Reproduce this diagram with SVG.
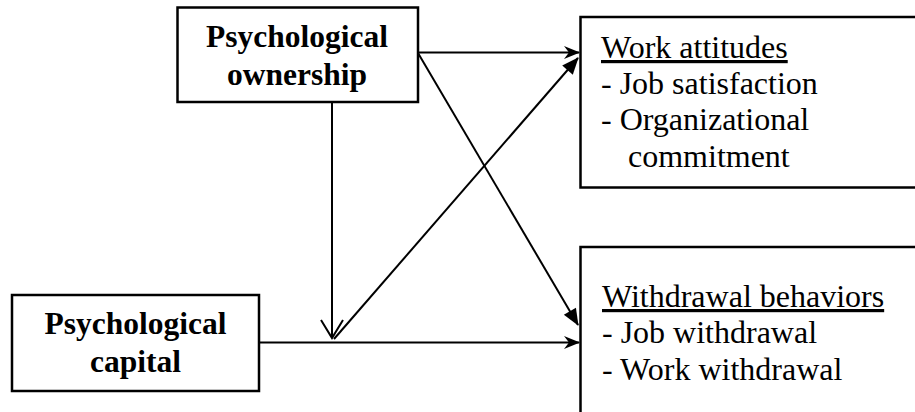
<svg xmlns="http://www.w3.org/2000/svg" width="915" height="412" viewBox="0 0 915 412">
<style>
.box{fill:#fff;stroke:#000;stroke-width:2.5}
.b{font-family:"Liberation Serif","Times New Roman",serif;font-weight:bold;font-size:31.5px;text-anchor:middle;fill:#000}
.r{font-family:"Liberation Serif","Times New Roman",serif;font-size:32px;fill:#000}
.u{text-decoration:underline}
.c{fill:none;stroke:#000;stroke-width:2}
</style>
<defs>
<marker id="barb" markerUnits="userSpaceOnUse" viewBox="-17 -8 19 16" refX="0" refY="0" markerWidth="19" markerHeight="16" orient="auto" overflow="visible">
<path d="M1,0 L-15,-6.5 L-10,0 L-15,6.5 Z" fill="#000"/>
</marker>
<marker id="tri" markerUnits="userSpaceOnUse" viewBox="-18 -8 20 16" refX="0" refY="0" markerWidth="20" markerHeight="16" orient="auto" overflow="visible">
<path d="M1,0 L-16,-7 L-16,7 Z" fill="#000"/>
</marker>
<marker id="vee" markerUnits="userSpaceOnUse" viewBox="-20 -13 22 26" refX="0" refY="0" markerWidth="22" markerHeight="26" orient="auto" overflow="visible">
<path d="M-18,-11 L0,0 L-18,11" fill="none" stroke="#000" stroke-width="2"/>
</marker>
</defs>
<g id="connectors">
<line class="c" x1="418" y1="52.5" x2="579" y2="52.5" marker-end="url(#barb)"/>
<line class="c" x1="418" y1="53" x2="578" y2="325" marker-end="url(#tri)"/>
<line class="c" x1="332" y1="102" x2="332" y2="338" marker-end="url(#vee)"/>
<line class="c" x1="259" y1="342.5" x2="579" y2="342.5" marker-end="url(#barb)"/>
<line class="c" x1="334" y1="339" x2="578" y2="58" marker-end="url(#tri)"/>
</g>
<g id="ownership">
<rect class="box" x="177.5" y="7.5" width="240.5" height="94.5"/>
<text class="b" x="297" y="47">Psychological</text>
<text class="b" x="297" y="85">ownership</text>
</g>
<g id="capital">
<rect class="box" x="12" y="295" width="247" height="96"/>
<text class="b" x="135.5" y="334">Psychological</text>
<text class="b" x="135.5" y="372">capital</text>
</g>
<g id="attitudes">
<rect class="box" x="580.5" y="17" width="360" height="170.5"/>
<text class="r u" x="601" y="58">Work attitudes</text>
<text class="r" x="601" y="94">- Job satisfaction</text>
<text class="r" x="601" y="130">- Organizational</text>
<text class="r" x="628" y="167">commitment</text>
</g>
<g id="withdrawal">
<rect class="box" x="580.5" y="247" width="360" height="200"/>
<text class="r u" x="602" y="307">Withdrawal behaviors</text>
<text class="r" x="602" y="343">- Job withdrawal</text>
<text class="r" x="602" y="380">- Work withdrawal</text>
</g>
</svg>
